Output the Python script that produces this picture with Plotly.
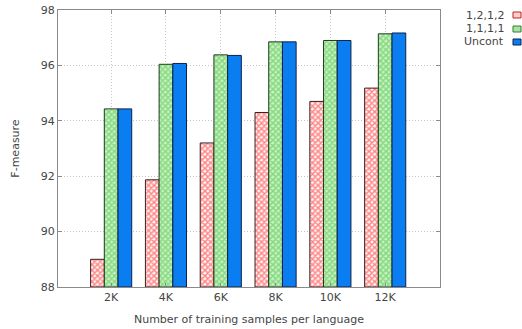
import plotly.graph_objects as go

# Training-set sizes and F-measure for each constraint setting
categories = ["2K", "4K", "6K", "8K", "10K", "12K"]
series_names = ["1,2,1,2", "1,1,1,1", "Uncont"]
f_1212 = [89.0, 91.87, 93.2, 94.3, 94.7, 95.18]
f_1111 = [94.43, 96.04, 96.38, 96.85, 96.9, 97.14]
f_uncont = [94.43, 96.07, 96.36, 96.85, 96.9, 97.17]
y_ticks = [88, 90, 92, 94, 96, 98]

FONT = "DejaVu Sans, Liberation Sans, sans-serif"
TXT = "#454545"
FRAME = "#8a8a8a"
GRID = "#c4c4c4"

W, H = 522, 329
ML, MR, MT, MB = 58, 82, 10, 42
PW, PH = W - ML - MR, H - MT - MB

x_idx = list(range(len(categories)))

styles = [
    dict(color="white", line=dict(color="#3a2020", width=1),
         pattern=dict(shape="x", size=4, solidity=0.6, fgcolor="#ff8484", bgcolor="#fff4f4", fillmode="replace")),
    dict(color="#b8ecb0", line=dict(color="#203a20", width=1),
         pattern=dict(shape="x", size=4, solidity=0.6, fgcolor="#84d880", bgcolor="#c8f2c0", fillmode="replace")),
    dict(color="#0a7df0", line=dict(color="#10204a", width=1)),
]

fig = go.Figure()
for name, vals, st in zip(series_names, [f_1212, f_1111, f_uncont], styles):
    fig.add_trace(go.Bar(
        x=x_idx, y=[v - 88 for v in vals], base=88, name=name,
        marker=st, showlegend=False, width=0.25,
    ))

axis_common = dict(
    showgrid=True, gridcolor=GRID, griddash="1px,2px", gridwidth=1,
    showline=True, linecolor=FRAME, linewidth=1, mirror="ticks",
    ticks="inside", ticklen=4, tickcolor=FRAME,
    tickfont=dict(size=11, color=TXT), zeroline=False, automargin=False,
)

fig.update_layout(
    width=W, height=H,
    margin=dict(l=ML, r=MR, t=MT, b=MB, autoexpand=False),
    paper_bgcolor="white", plot_bgcolor="white",
    barmode="group", bargap=0.25, bargroupgap=0,
    font=dict(family=FONT, size=11, color=TXT),
    showlegend=False,
    xaxis=dict(
        range=[-0.97, 6.0], tickvals=x_idx, ticktext=categories,
        title=dict(text="Number of training samples per language", font=dict(size=11, color=TXT), standoff=12),
        **axis_common,
    ),
    yaxis=dict(
        range=[88, 98], tickvals=y_ticks,
        title=dict(text="F-measure", font=dict(size=11, color=TXT), standoff=18),
        **axis_common,
    ),
)

# Key: label text followed by a small swatch, stacked at the top right
swatch_fill = ["#ffd0d0", "#a8e4a0", "#0a7df0"]
swatch_line = ["#c02020", "#308030", "#10204a"]
row_y = [15, 29, 42]
for name, fill, edge, yy in zip(series_names, swatch_fill, swatch_line, row_y):
    fig.add_annotation(
        xref="paper", yref="paper",
        x=(506 - ML) / PW, y=1 - (yy - MT) / PH,
        text=name, showarrow=False, xanchor="right", yanchor="middle",
        font=dict(size=11, color=TXT),
    )
    fig.add_shape(
        type="rect", xref="paper", yref="paper",
        x0=(513 - ML) / PW, x1=(521 - ML) / PW,
        y0=1 - (yy + 3 - MT) / PH, y1=1 - (yy - 3 - MT) / PH,
        fillcolor=fill, line=dict(color=edge, width=1),
    )

fig.write_html("out.html")
